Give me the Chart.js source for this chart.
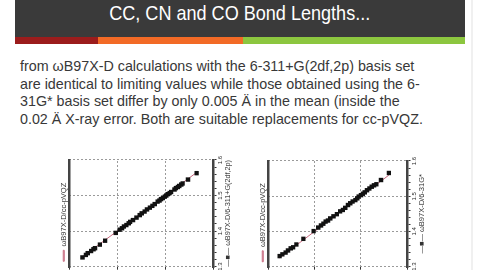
<!DOCTYPE html>
<html lang="en">
<head>
<meta charset="UTF-8">
<title>CC, CN and CO Bond Lengths</title>
<script src="https://cdn.jsdelivr.net/npm/chart.js"></script>
<style>
    html, body { margin: 0; padding: 0; }
    body {
        width: 480px; height: 270px; overflow: hidden; position: relative;
        background: #ffffff;
        font-family: "Liberation Sans", Arial, sans-serif;
    }
    .header {
        position: absolute; left: 15px; top: 0; width: 450px; height: 37px;
        background: #3a3a3a;
    }
    .header h1 {
        margin: 0; color: #ffffff; text-align: center;
        font-family: "Liberation Sans", Arial, sans-serif;
        font-weight: normal; font-size: 21px; line-height: 26px;
    }
    .header h1 span { display: inline-block; transform: scaleX(0.86); }
    .bar { position: absolute; top: 37px; height: 7px; }
    .text {
        position: absolute; left: 20px; top: 58px;
        font-size: 14.3px; line-height: 17.7px; color: #383838; white-space: nowrap;
    }
    .edge { position: absolute; left: 471px; top: 0; width: 2px; height: 270px; background: #f0f0f0; }
    .chart { position: absolute; transform-origin: 0 0; transform: rotate(-90deg); }
</style>
</head>
<body>
    <div class="header"><h1><span>CC, CN and CO Bond Lengths...</span></h1></div>
    <div class="bar" style="left:15px; width:83px; background:#9b1c1c;"></div>
    <div class="bar" style="left:98px; width:145px; background:#f26a26;"></div>
    <div class="bar" style="left:243px; width:222px; background:#8cc63f;"></div>
    <div class="edge"></div>

    <div class="text">
        from ωB97X-D calculations with the 6-311+G(2df,2p) basis set<br>
        are identical to limiting values while those obtained using the 6-<br>
        31G* basis set differ by only 0.005 Ä in the mean (inside the<br>
        0.02 Ä X-ray error. Both are suitable replacements for cc-pVQZ.
    </div>

    <div class="chart" id="wrapLeft"><canvas id="chartLeft"></canvas></div>
    <div class="chart" id="wrapRight"><canvas id="chartRight"></canvas></div>

<script>
    // bond lengths (Å)
    const axisMin = 1.3;
    const axisMax = 1.6;
    const majorStep = 0.1;
    const minorStep = 0.02;

    // left plot: ωB97X-D/6-311+G(2df,2p) against ωB97X-D/cc-pVQZ
    const bigBasis = [1.326, 1.333, 1.338, 1.344, 1.349, 1.352, 1.362, 1.373, 1.395, 1.404,
        1.408, 1.413, 1.417, 1.422, 1.426, 1.431, 1.438, 1.445, 1.450, 1.455,
        1.461, 1.466, 1.471, 1.476, 1.483, 1.486, 1.490, 1.493, 1.497, 1.500,
        1.504, 1.507, 1.510, 1.517, 1.521, 1.524, 1.527, 1.531, 1.534, 1.545, 1.563];
    const bigBasisRef = [1.328, 1.335, 1.339, 1.346, 1.351, 1.354, 1.364, 1.375, 1.397, 1.405,
        1.410, 1.414, 1.419, 1.424, 1.427, 1.433, 1.440, 1.447, 1.451, 1.457,
        1.462, 1.468, 1.473, 1.478, 1.484, 1.488, 1.491, 1.495, 1.499, 1.502,
        1.505, 1.509, 1.512, 1.519, 1.522, 1.526, 1.529, 1.533, 1.536, 1.547, 1.565];

    // right plot: ωB97X-D/6-31G* against ωB97X-D/cc-pVQZ
    const smallBasis = [1.330, 1.335, 1.340, 1.346, 1.352, 1.355, 1.363, 1.379, 1.401, 1.411,
        1.417, 1.422, 1.428, 1.431, 1.437, 1.443, 1.449, 1.457, 1.461, 1.467,
        1.475, 1.480, 1.485, 1.489, 1.494, 1.499, 1.503, 1.507, 1.511, 1.517,
        1.522, 1.527, 1.531, 1.534, 1.546, 1.566];
    const smallBasisRef = [1.325, 1.331, 1.338, 1.343, 1.349, 1.354, 1.361, 1.376, 1.398, 1.408,
        1.414, 1.419, 1.424, 1.429, 1.434, 1.441, 1.448, 1.455, 1.461, 1.466,
        1.472, 1.477, 1.482, 1.488, 1.492, 1.495, 1.500, 1.504, 1.508, 1.513,
        1.518, 1.523, 1.528, 1.533, 1.543, 1.560];

    const refLabel = 'ωB97X-D/cc-pVQZ';
    const textColor = '#333333';
    const fontFamily = '"Liberation Sans", Arial, sans-serif';

    const isMajor = v => Math.abs(v / majorStep - Math.round(v / majorStep)) < 1e-6;

    function createChartConfig(xs, ys, xLabel) {
        const points = xs.map((x, i) => ({ x: x, y: ys[i] }));
        const diagonal = ys.map(v => ({ x: v, y: v }));
        return {
            type: 'scatter',
            data: {
                datasets: [{
                    label: refLabel,
                    data: diagonal,
                    showLine: true,
                    borderColor: '#c8687f',
                    borderWidth: 1,
                    pointRadius: 0,
                    order: 2
                }, {
                    label: xLabel,
                    data: points,
                    pointStyle: 'rect',
                    pointRadius: 3.1,
                    backgroundColor: '#111111',
                    borderColor: '#111111',
                    borderWidth: 0,
                    order: 1
                }]
            },
            options: {
                responsive: false,
                maintainAspectRatio: false,
                animation: false,
                layout: { padding: { left: 0, right: 24, top: 0, bottom: 2 } },
                plugins: {
                    legend: {
                        position: 'top',
                        maxHeight: 10,
                        labels: {
                            filter: item => item.datasetIndex === 0,
                            boxWidth: 11, boxHeight: 1, padding: 1,
                            font: { family: fontFamily, size: 7.5 }, color: textColor
                        }
                    },
                    tooltip: { enabled: false }
                },
                scales: {
                    x: {
                        type: 'linear', position: 'bottom', min: axisMin, max: axisMax,
                        ticks: { stepSize: minorStep, autoSkip: false, maxRotation: 0, minRotation: 0,
                                 font: { family: fontFamily, size: 6, lineHeight: 1 }, color: textColor, padding: 1,
                                 callback: v => isMajor(v) ? v.toFixed(1) : '' },
                        grid: {
                            color: ctx => isMajor(ctx.tick.value) ? '#9a9a9a' : 'rgba(0,0,0,0)',
                            tickColor: '#333333', tickLength: 3
                        },
                        border: { dash: [2, 2], color: '#444444', width: 2.5 },
                        title: { display: true, text: '—■— ' + xLabel,
                                 font: { family: fontFamily, size: 7.5, lineHeight: 1 },
                                 color: textColor, padding: { top: 0, bottom: 0 } }
                    },
                    y: {
                        type: 'linear', min: axisMin, max: axisMax, reverse: true,
                        ticks: { stepSize: majorStep, maxRotation: 0, font: { family: fontFamily, size: 6 },
                                 color: textColor, callback: v => v.toFixed(1) },
                        grid: { color: '#9a9a9a', tickColor: '#333333', tickLength: 3 },
                        border: { dash: [2, 2], display: false }
                    },
                    xTop: {
                        type: 'linear', position: 'top', min: axisMin, max: axisMax,
                        ticks: { display: false },
                        grid: { display: false, drawTicks: false },
                        border: { color: '#444444', width: 2.5 }
                    }
                }
            }
        };
    }

    // build the chart, then resize so the plot area fills the box (screen coords, rotated -90deg)
    function buildRotated(canvasId, wrapId, xs, ys, xLabel, box) {
        const canvas = document.getElementById(canvasId);
        const wrap = document.getElementById(wrapId);
        canvas.width = 160; canvas.height = 210;
        let chart = new Chart(canvas.getContext('2d'), createChartConfig(xs, ys, xLabel));
        let a = chart.chartArea;
        const w = Math.round(chart.width + box.h - (a.right - a.left));
        const h = Math.round(chart.height + box.w - (a.bottom - a.top));
        chart.destroy();
        canvas.width = w; canvas.height = h;
        canvas.style.width = w + 'px'; canvas.style.height = h + 'px';
        chart = new Chart(canvas.getContext('2d'), createChartConfig(xs, ys, xLabel));
        a = chart.chartArea;
        wrap.style.left = (box.x - a.top) + 'px';
        wrap.style.top = (box.y + box.h + a.left) + 'px';
        return chart;
    }

    buildRotated('chartLeft', 'wrapLeft', bigBasis, bigBasisRef, 'ωB97X-D/6-311+G(2df,2p)',
        { x: 69, y: 160, w: 144, h: 107 });
    buildRotated('chartRight', 'wrapRight', smallBasis, smallBasisRef, 'ωB97X-D/6-31G*',
        { x: 268, y: 161, w: 139, h: 106 });
</script>
</body>
</html>
